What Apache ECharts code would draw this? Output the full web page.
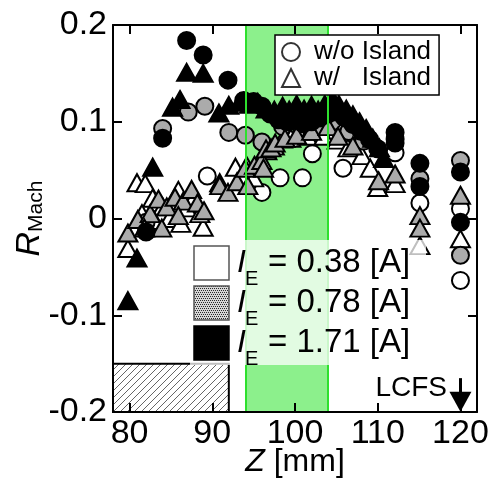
<!DOCTYPE html>
<html>
<head>
<meta charset="utf-8">
<script src="https://cdn.jsdelivr.net/npm/echarts@6/dist/echarts.min.js"></script>
<style>
  html, body { margin: 0; padding: 0; background: #fff; }
  #chart { width: 500px; height: 480px; }
</style>
</head>
<body>
<div id="chart"></div>
<script>
const FONT = "Liberation Sans";

const xTicks = [80, 90, 100, 110, 120];
const yTicks = [-0.2, -0.1, 0, 0.1, 0.2];
const currents = ["0.38", "0.78", "1.71"];
const shapeNames = ["w/o Island", "w/   Island"];
const bandRange = [94, 104];
const hatchBox = [[78, -0.2], [92, -0.15]];
const lcfsZ = 120;

// I_E = 0.38 A
const whiteCircles = [
  [89.4, 0.044], [96.0, 0.027], [98.2, 0.042], [100.9, 0.042], [102.1, 0.067],
  [105.8, 0.052], [112.1, 0.068], [115.1, 0.016], [120, 0.010], [120, -0.064],
];
const whiteTriangles = [
  [80.9, 0.037], [81.9, 0.036], [82.8, 0.021], [84.0, 0.012], [85.9, 0.029],
  [86.9, 0.011], [88.9, -0.009], [79.8, -0.031], [83.0, -0.002], [84.8, 0.0],
  [87.7, 0.020], [88.5, 0.005], [90.9, 0.037], [92.8, 0.053], [81.5, 0.005],
  [86.2, -0.005], [94.2, 0.054], [95.0, 0.042], [95.8, 0.060],
  [96.6, 0.070], [97.5, 0.075], [98.5, 0.082], [99.5, 0.083], [100.5, 0.088],
  [101.5, 0.085], [102.5, 0.090], [103.5, 0.085], [105.1, 0.081], [106.4, 0.073],
  [108.1, 0.065], [109.1, 0.052], [110.0, 0.032], [112.1, 0.036], [115.1, -0.028],
  [120, -0.021],
];
// I_E = 0.78 A
const greyCircles = [
  [84.0, 0.093], [82.0, -0.004], [87.1, 0.110], [89.1, 0.116], [92.0, 0.089],
  [94.0, 0.086], [96.0, 0.079], [98.5, 0.095], [100.5, 0.098], [102.5, 0.094],
  [104.5, 0.100], [106.5, 0.090], [108.3, 0.080], [112.1, 0.082], [115.1, 0.041],
  [120, 0.060], [120, -0.038],
];
const greyTriangles = [
  [79.8, -0.015], [81.0, -0.001], [82.5, 0.005], [83.5, 0.020], [84.5, 0.012],
  [85.5, 0.022], [86.5, 0.018], [87.5, 0.030], [88.2, 0.016], [89.0, 0.008],
  [83.9, -0.010], [85.9, 0.003], [81.8, -0.010], [90.9, 0.034], [91.9, 0.027],
  [93.0, 0.038], [94.0, 0.052], [94.3, 0.034], [95.1, 0.055], [96.0, 0.060],
  [96.2, 0.052], [96.5, 0.072], [97.1, 0.073], [97.6, 0.078], [98.8, 0.083],
  [100.2, 0.086], [102.0, 0.090], [104.0, 0.095], [105.2, 0.085], [107.0, 0.075],
  [110.1, 0.039], [112.1, 0.046], [115.1, 0.003], [115.1, -0.010], [120, 0.024],
];
// I_E = 1.71 A
const blackCircles = [
  [86.9, 0.184], [88.9, 0.169], [91.9, 0.143], [93.8, 0.122], [95.0, 0.121],
  [96.0, 0.116], [97.0, 0.108], [98.0, 0.102], [99.0, 0.100], [100.0, 0.102],
  [101.0, 0.098], [102.0, 0.100], [103.0, 0.104], [104.0, 0.108], [105.0, 0.110],
  [106.0, 0.104], [107.0, 0.097], [108.0, 0.090], [109.0, 0.082], [110.0, 0.072],
  [112.1, 0.089], [112.1, 0.078], [115.1, 0.057], [115.1, 0.033], [120, 0.048],
  [120, -0.004], [84.0, 0.083], [82.0, -0.014],
];
const blackTriangles = [
  [79.8, -0.085], [80.9, -0.041], [82.8, 0.053], [85.2, 0.115], [86.1, 0.123],
  [86.9, 0.151], [88.9, 0.150], [90.8, 0.109], [92.0, 0.117], [93.3, 0.120],
  [94.5, 0.118], [95.5, 0.120], [96.5, 0.113], [97.5, 0.112], [98.5, 0.116],
  [99.3, 0.112], [100.2, 0.118], [101.1, 0.113], [102.0, 0.117], [102.8, 0.112],
  [103.6, 0.118], [104.5, 0.124], [105.3, 0.118], [106.2, 0.113], [107.0, 0.107],
  [107.8, 0.100], [108.6, 0.093], [109.4, 0.083], [110.2, 0.073], [110.7, 0.062],
];

function stipple() {
  const c = document.createElement("canvas");
  c.width = 4; c.height = 4;
  const g = c.getContext("2d");
  g.fillStyle = "#d6d6d6"; g.fillRect(0, 0, 4, 4);
  g.fillStyle = "#2a2a2a";
  [[0, 0], [2, 0], [1, 2], [3, 2]].forEach(([x, y]) => g.fillRect(x, y, 1, 1));
  return { image: c, repeat: "repeat" };
}
function hatch() {
  const c = document.createElement("canvas");
  c.width = 7; c.height = 7;
  const g = c.getContext("2d");
  g.fillStyle = "#fff"; g.fillRect(0, 0, 7, 7);
  g.strokeStyle = "#666"; g.lineWidth = 1;
  g.beginPath();
  g.moveTo(0, 7); g.lineTo(7, 0);
  g.moveTo(-1, 1); g.lineTo(1, -1);
  g.moveTo(6, 8); g.lineTo(8, 6);
  g.stroke();
  return { image: c, repeat: "repeat" };
}
// symbols are scaled paths, so they get a flat grey; the legend square keeps the stipple
const fills = ["#fff", "#ababab", "#000"];
const legendFills = ["#fff", stipple(), "#000"];

function pts(data, symbol, fill, z) {
  return {
    type: "scatter", data, symbol, z,
    symbolSize: symbol === "triangle" ? [19, 17] : 17,
    itemStyle: { color: fill, borderColor: "#000", borderWidth: 2, opacity: 1 },
    emphasis: { disabled: true },
  };
}

const chart = echarts.init(document.getElementById("chart"), null, { renderer: "canvas" });

const axisBase = {
  type: "value", z: 10,
  axisLine: { onZero: false, lineStyle: { color: "#000", width: 2 } },
  splitLine: { show: false },
};
const tickStyle = (vals) => ({ inside: true, length: 9, customValues: vals, lineStyle: { color: "#000", width: 2 } });

chart.setOption({
  animation: false,
  grid: { left: 113, right: 23, top: 25, bottom: 68, containLabel: false, outerBoundsMode: "none" },
  xAxis: [
    {
      ...axisBase, min: 78, max: 122, position: "bottom",
      axisTick: tickStyle(xTicks),
      axisLabel: { customValues: xTicks, color: "#000", fontSize: 34, fontFamily: FONT, margin: 5 },
      name: "{i|Z}{n| [mm]}", nameLocation: "middle", nameGap: 34, nameMoveOverlap: false,
      nameTextStyle: {
        rich: {
          i: { fontSize: 32, fontStyle: "italic", fontFamily: FONT, color: "#000" },
          n: { fontSize: 32, fontFamily: FONT, color: "#000" },
        },
      },
    },
    {
      ...axisBase, min: 78, max: 122, position: "top",
      axisTick: tickStyle(xTicks), axisLabel: { show: false },
    },
  ],
  yAxis: [
    {
      ...axisBase, min: -0.2, max: 0.2, interval: 0.1, position: "left",
      axisTick: tickStyle(yTicks),
      axisLabel: { customValues: yTicks, color: "#000", fontSize: 34, fontFamily: FONT, margin: 6 },
      name: "{r|R}{s|Mach}", nameLocation: "middle", nameRotate: 90, nameGap: 66, nameMoveOverlap: false,
      nameTextStyle: {
        rich: {
          r: { fontSize: 34, fontStyle: "italic", fontFamily: FONT, color: "#000", verticalAlign: "bottom", lineHeight: 34 },
          s: { fontSize: 21, fontFamily: FONT, color: "#000", verticalAlign: "bottom", lineHeight: 16 },
        },
      },
    },
    {
      ...axisBase, min: -0.2, max: 0.2, interval: 0.1, position: "right",
      axisTick: tickStyle(yTicks), axisLabel: { show: false },
    },
  ],
  legend: {
    data: shapeNames, orient: "vertical", left: 275, top: 35,
    padding: [4, 8, 4, 6], itemGap: 0, itemWidth: 18, itemHeight: 18,
    borderColor: "#000", borderWidth: 1.5, backgroundColor: "#fff",
    selectedMode: false, z: 50,
    textStyle: { fontSize: 26, fontFamily: FONT, color: "#000", lineHeight: 25, padding: [0, 0, 0, 9] },
  },
  series: [
    {
      type: "scatter", data: [], z: 1, silent: true,
      markArea: {
        silent: true,
        data: [
          [{ xAxis: bandRange[0], itemStyle: { color: "#8cf08c" } }, { xAxis: bandRange[1] }],
          [{ coord: hatchBox[0], itemStyle: { color: hatch(), borderColor: "#000", borderWidth: 2 } }, { coord: hatchBox[1] }],
        ],
      },
      markLine: {
        silent: true, symbol: "none", label: { show: false },
        lineStyle: { color: "#2ee02e", width: 2, type: "solid" },
        data: [{ xAxis: bandRange[0] }, { xAxis: bandRange[1] }],
      },
    },
    { name: shapeNames[0], type: "scatter", data: [], symbol: "circle",
      itemStyle: { color: "#fff", borderColor: "#000", borderWidth: 2 } },
    { name: shapeNames[1], type: "scatter", data: [], symbol: "triangle",
      itemStyle: { color: "#fff", borderColor: "#000", borderWidth: 2 } },
    pts(whiteCircles, "circle", fills[0], 2),
    pts(whiteTriangles, "triangle", fills[0], 2),
    pts(greyCircles, "circle", fills[1], 3),
    pts(greyTriangles, "triangle", fills[1], 3),
    pts(blackCircles, "circle", fills[2], 4),
    {
      ...pts(blackTriangles, "triangle", fills[2], 4),
      markLine: {
        silent: true, symbol: ["none", "triangle"], symbolSize: [22, 20],
        label: { show: false },
        lineStyle: { color: "#000", width: 3, type: "solid" },
        itemStyle: { color: "#000" },
        data: [[{ coord: [lcfsZ, -0.165] }, { coord: [lcfsZ, -0.1895] }]],
      },
    },
  ],
  graphic: [
    { type: "rect", z: 100, shape: { x: 190, y: 240, width: 236, height: 125 },
      style: { fill: "rgba(255,255,255,0.75)" } },
    ...currents.flatMap((c, i) => {
      const y0 = 246 + i * 40;
      return [
        { type: "rect", z: 101, shape: { x: 194, y: y0, width: 35, height: 34 },
          style: { fill: legendFills[i], stroke: i === 2 ? "#000" : "#555", lineWidth: 1.5 } },
        { type: "text", z: 101, x: 237, y: y0 + 17,
          style: { text: "I", fontSize: 32, fontStyle: "italic", fontFamily: FONT, fill: "#000", align: "left", verticalAlign: "middle" } },
        { type: "text", z: 101, x: 245, y: y0 + 33,
          style: { text: "E", fontSize: 20, fontFamily: FONT, fill: "#000", align: "left", verticalAlign: "middle" } },
        { type: "text", z: 101, x: 268, y: y0 + 17,
          style: { text: "= " + c + " [A]", fontSize: 33, fontFamily: FONT, fill: "#000", align: "left", verticalAlign: "middle" } },
      ];
    }),
    { type: "text", z: 101, x: 447, y: 388,
      style: { text: "LCFS", fontSize: 28, fontFamily: FONT, fill: "#000", align: "right", verticalAlign: "middle" } },
  ],
});
</script>
</body>
</html>
